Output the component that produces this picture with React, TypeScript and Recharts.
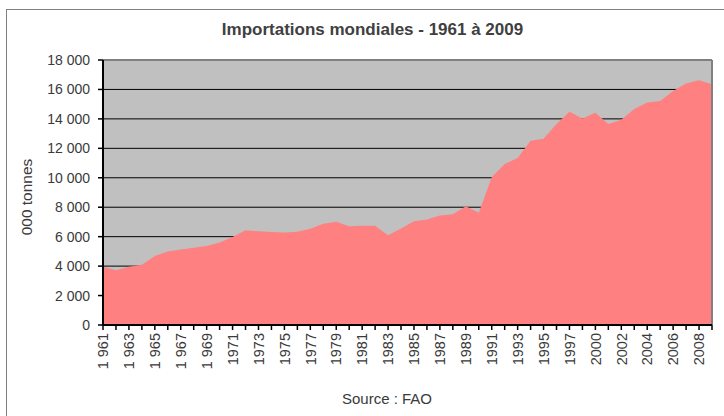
import { AreaChart, Area, XAxis, YAxis, CartesianGrid, ReferenceLine } from "recharts"

// years as shown on the category axis (1999 is absent in the source series)
const years = [
  "1 961", "1962", "1 963", "1964", "1 965", "1966", "1 967", "1968", "1 969", "1970",
  "1971", "1972", "1973", "1974", "1975", "1976", "1977", "1978", "1979", "1980",
  "1981", "1982", "1983", "1984", "1985", "1986", "1987", "1988", "1989", "1990",
  "1991", "1992", "1993", "1994", "1995", "1996", "1997", "1998", "2000", "2001",
  "2002", "2003", "2004", "2005", "2006", "2007", "2008", "2009",
]

// world imports, thousand tonnes
const imports = [
  3950, 3720, 3950, 4100, 4690, 5000, 5120, 5250, 5370, 5600,
  5980, 6430, 6360, 6320, 6290, 6340, 6540, 6880, 7020, 6700,
  6740, 6740, 6090, 6560, 7040, 7170, 7440, 7530, 8070, 7620,
  10040, 10940, 11350, 12520, 12650, 13650, 14480, 14030, 14410, 13650,
  13940, 14680, 15110, 15220, 15900, 16400, 16620, 16350,
]

const yTicks = [0, 2000, 4000, 6000, 8000, 10000, 12000, 14000, 16000, 18000]

const data = years.map((year, i) => ({ year, value: imports[i] }))

const font = "'Liberation Sans', Arial, sans-serif"
const textColor = "#3a3a3a"

const formatThousands = (v: number) => (v === 0 ? "0" : `${Math.floor(v / 1000)} 000`)

function YearTick(props: any) {
  const { x, y, payload, index } = props
  if (index % 2 !== 0) return null
  return (
    <text
      transform={`translate(${x},${y}) rotate(-90)`}
      textAnchor="end"
      dy="0.36em"
      fontSize={14.5}
      fontFamily={font}
      fill={textColor}
    >
      {payload.value}
    </text>
  )
}

export default function App() {
  return (
    <div style={{ position: "absolute", left: 0, top: 0, width: 724, height: 416, background: "#fff", fontFamily: font }}>
      <div
        style={{
          position: "absolute",
          left: 6,
          top: 9,
          width: 730,
          height: 420,
          borderTop: "1px solid #808080",
          borderLeft: "1px solid #808080",
        }}
      />
      <div
        style={{
          position: "absolute",
          left: 0,
          width: 745,
          top: 20,
          textAlign: "center",
          fontWeight: "bold",
          fontSize: 17,
          color: "#404040",
        }}
      >
        Importations mondiales - 1961 à 2009
      </div>
      <div
        style={{
          position: "absolute",
          left: 27,
          top: 197,
          transform: "translate(-50%, -50%) rotate(-90deg)",
          fontSize: 15.5,
          color: textColor,
          whiteSpace: "nowrap",
        }}
      >
        000 tonnes
      </div>
      <div
        style={{
          position: "absolute",
          left: 387,
          top: 398,
          transform: "translate(-50%, -50%)",
          fontSize: 15,
          color: textColor,
          whiteSpace: "nowrap",
        }}
      >
        Source : FAO
      </div>
      <div style={{ position: "absolute", left: 0, top: 0 }}>
        <AreaChart width={724} height={416} data={data} margin={{ top: 60, right: 12, left: 0, bottom: 0 }}>
          <CartesianGrid vertical={false} stroke="#000" strokeWidth={1} fill="#c0c0c0" fillOpacity={1} />
          <XAxis
            dataKey="year"
            interval={0}
            height={91}
            tickSize={5}
            tickMargin={3}
            tick={<YearTick />}
            axisLine={{ stroke: "#000", strokeWidth: 2 }}
            tickLine={{ stroke: "#000", strokeWidth: 1.5 }}
          />
          <YAxis
            width={103}
            domain={[0, 18000]}
            ticks={yTicks}
            tickFormatter={formatThousands}
            tickSize={5}
            tickMargin={8}
            tick={{ fontSize: 14, fontFamily: font, fill: textColor }}
            axisLine={{ stroke: "#000", strokeWidth: 2 }}
            tickLine={{ stroke: "#000", strokeWidth: 1.5 }}
          />
          <Area
            type="linear"
            dataKey="value"
            stroke="none"
            fill="#ff8080"
            fillOpacity={1}
            isAnimationActive={false}
          />
          <ReferenceLine y={18000} stroke="#808080" strokeWidth={2} />
          <ReferenceLine x="2009" stroke="#808080" strokeWidth={2} />
        </AreaChart>
      </div>
    </div>
  )
}
